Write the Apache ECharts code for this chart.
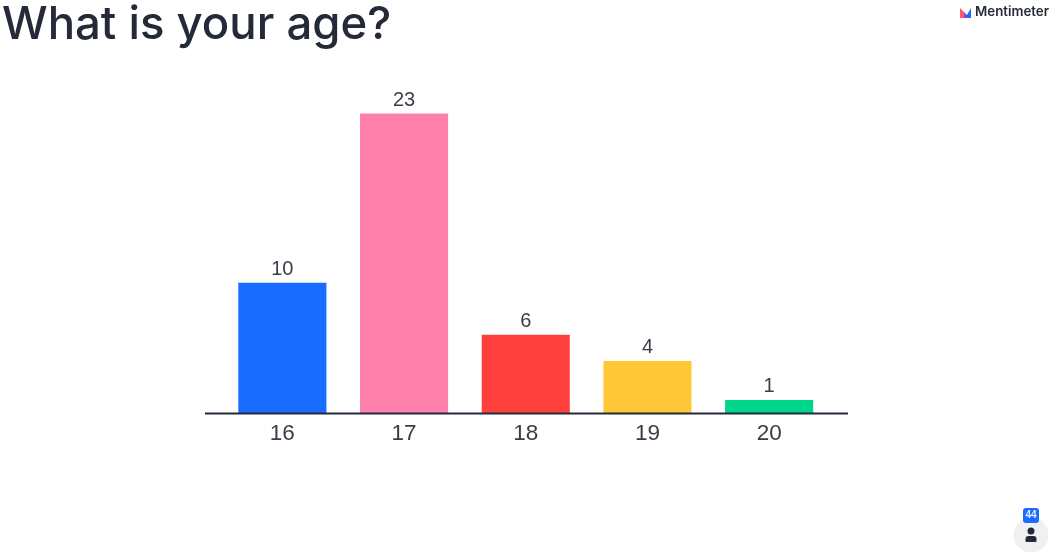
<!DOCTYPE html>
<html><head><meta charset="utf-8">
<style>html,body{margin:0;padding:0;background:#fff}#c{width:1051px;height:552px}</style>
<script src="https://cdn.jsdelivr.net/npm/echarts@6/dist/echarts.min.js"></script>
</head><body><div id="c"></div>
<script>
const categories = ['16','17','18','19','20'];
const values = [10,23,6,4,1];
const barColors = ['#196cff','#ff80ab','#ff403d','#ffc738','#00d68a'];
const titleText = 'What is your age?';
const brandText = 'Mentimeter';
const countText = '44';
const ink = '#252a38';
const chart = echarts.init(document.getElementById('c'), null, {renderer:'canvas'});
chart.setOption({
  animation:false,
  backgroundColor:'#fff',
  title:{text:titleText,left:2,top:2,padding:0,textStyle:{fontFamily:'Inter',fontSize:45.5,fontWeight:500,color:ink}},
  grid:{left:221.5,right:221,top:113.5,bottom:139},
  xAxis:{type:'category',data:categories,axisTick:{show:false},axisLine:{show:false},
    axisLabel:{fontFamily:'Liberation Sans',fontSize:22.5,color:'#3a3d47',margin:9}},
  yAxis:{type:'value',min:0,max:23,show:false,splitLine:{show:false}},
  series:[{type:'bar',barWidth:'72.4%',
    data:values.map((v,i)=>({value:v,itemStyle:{color:barColors[i]}})),
    label:{show:true,position:'top',distance:3,fontFamily:'Liberation Sans',fontSize:20,color:'#3a3d47'}}],
  graphic:[
    {type:'rect',shape:{x:205,y:412.5,width:643,height:2},style:{fill:ink},z:10},
    // Mentimeter logo
    {type:'polygon',shape:{points:[[960,8],[964,12],[964,18],[960,18]]},style:{fill:'#ff5a6e'}},
    {type:'polygon',shape:{points:[[964,12],[967,15],[967,18],[964,18]]},style:{fill:'#7a4fd0'}},
    {type:'polygon',shape:{points:[[967,15],[971,8],[971,18],[967,18]]},style:{fill:'#196cff'}},
    {type:'text',left:975,top:5,style:{text:brandText,font:'600 13.3px Inter',fill:ink}},
    // participant counter
    {type:'circle',shape:{cx:1031,cy:535,r:17.5},style:{fill:'#f0f0f0'}},
    {type:'rect',shape:{x:1023,y:508,width:16,height:15,r:3},style:{fill:'#196cff'}},
    {type:'text',x:1031,y:515.5,style:{text:countText,font:'bold 10px "Liberation Sans"',fill:'#e8f0ff',align:'center',verticalAlign:'middle'}},
    {type:'circle',shape:{cx:1031,cy:531,r:3.5},style:{fill:ink}},
    {type:'rect',shape:{x:1025.5,y:536,width:11,height:6,r:[3,3,1,1]},style:{fill:ink}}
  ]
});
</script></body></html>
